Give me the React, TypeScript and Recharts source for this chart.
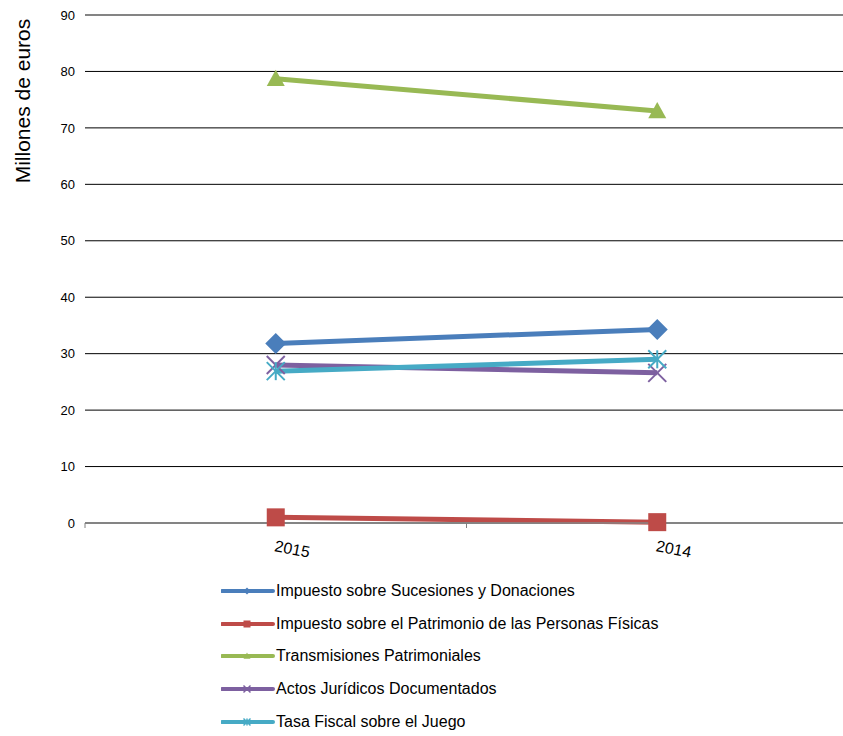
import React from 'react';
import {
  LineChart,
  Line,
  XAxis,
  YAxis,
  CartesianGrid,
  Legend,
  ReferenceLine
} from 'recharts';

const years = ['2015', '2014'];
const sucesiones = [31.8, 34.3];
const patrimonio = [1.0, 0.15];
const transmisiones = [78.7, 73.0];
const actos = [28.0, 26.6];
const tasaJuego = [26.9, 29.0];
const yTicks = [0, 10, 20, 30, 40, 50, 60, 70, 80, 90];

const series = [
  { key: 'sucesiones', name: 'Impuesto sobre Sucesiones y Donaciones', color: '#4A7EBB', shape: 'diamond', values: sucesiones },
  { key: 'patrimonio', name: 'Impuesto sobre el Patrimonio de las Personas Físicas', color: '#BE4B48', shape: 'square', values: patrimonio },
  { key: 'transmisiones', name: 'Transmisiones Patrimoniales', color: '#98B954', shape: 'triangle', values: transmisiones },
  { key: 'actos', name: 'Actos Jurídicos Documentados', color: '#7D60A0', shape: 'x', values: actos },
  { key: 'tasaJuego', name: 'Tasa Fiscal sobre el Juego', color: '#46AAC5', shape: 'star', values: tasaJuego }
];

const data = years.map((year, i) => {
  const row: any = { year };
  series.forEach((s) => {
    row[s.key] = s.values[i];
  });
  return row;
});

const FONT = "Arial, 'Liberation Sans', sans-serif";
const PLOT_LEFT = 85;
const PLOT_RIGHT = 848;
const BAND_HALF = (PLOT_RIGHT - PLOT_LEFT) / years.length / 2;

const Marker = ({ shape, cx, cy, color, size, sw = 2 }: any) => {
  const r = size / 2;
  switch (shape) {
    case 'diamond':
      return <polygon points={`${cx},${cy - r} ${cx + r},${cy} ${cx},${cy + r} ${cx - r},${cy}`} fill={color} />;
    case 'square':
      return <rect x={cx - r} y={cy - r} width={size} height={size} fill={color} />;
    case 'triangle':
      return <polygon points={`${cx},${cy - r} ${cx + r},${cy + r * 0.8} ${cx - r},${cy + r * 0.8}`} fill={color} />;
    case 'x':
      return (
        <g stroke={color} strokeWidth={sw}>
          <line x1={cx - r} y1={cy - r} x2={cx + r} y2={cy + r} />
          <line x1={cx - r} y1={cy + r} x2={cx + r} y2={cy - r} />
        </g>
      );
    case 'star':
      return (
        <g stroke={color} strokeWidth={sw}>
          <line x1={cx - r} y1={cy - r} x2={cx + r} y2={cy + r} />
          <line x1={cx - r} y1={cy + r} x2={cx + r} y2={cy - r} />
          <line x1={cx} y1={cy - r} x2={cx} y2={cy + r} />
        </g>
      );
    default:
      return null;
  }
};

const XTick = ({ x, y, payload, index }: any) => {
  const isLast = index === years.length - 1;
  return (
    <g>
      <line x1={x - BAND_HALF} y1={y} x2={x - BAND_HALF} y2={y + 5} stroke="#808080" />
      {isLast && <line x1={x + BAND_HALF} y1={y} x2={x + BAND_HALF} y2={y + 5} stroke="#808080" />}
      <text
        x={x - 2}
        y={y + 28}
        transform={`rotate(11, ${x - 2}, ${y + 28})`}
        textAnchor="start"
        fontSize={16}
        fontFamily={FONT}
        fill="#000"
      >
        {payload.value}
      </text>
    </g>
  );
};

const LegendContent = () => (
  <div style={{ fontFamily: FONT, fontSize: 16, color: '#000' }}>
    {series.map((s) => (
      <div key={s.key} style={{ display: 'flex', alignItems: 'center', height: 32.7, whiteSpace: 'nowrap' }}>
        <svg width={54} height={14} style={{ display: 'block' }}>
          <line x1={1} y1={7} x2={52} y2={7} stroke={s.color} strokeWidth={4} strokeLinecap="round" />
          <Marker shape={s.shape} cx={26} cy={7} color={s.color} size={7} sw={1.5} />
        </svg>
        <span style={{ marginLeft: 1 }}>{s.name}</span>
      </div>
    ))}
  </div>
);

const YLabel = () => (
  <text
    x={22}
    y={101}
    transform="rotate(-90, 22, 101)"
    textAnchor="middle"
    dominantBaseline="central"
    fontSize={21}
    fontFamily={FONT}
    fill="#000"
  >
    Millones de euros
  </text>
);

export default function App() {
  return (
    <div style={{ position: 'absolute', left: 0, top: 0, width: 843, height: 736, overflow: 'hidden', background: '#fff' }}>
      <LineChart
        width={860}
        height={736}
        data={data}
        margin={{ top: 15, right: 860 - PLOT_RIGHT, left: 0, bottom: 183 }}
      >
        <CartesianGrid horizontal vertical={false} stroke="#000" strokeWidth={1} />
        <ReferenceLine y={90} stroke="#868686" strokeWidth={1.5} />
        <XAxis
          dataKey="year"
          height={30}
          padding={{ left: BAND_HALF, right: BAND_HALF }}
          axisLine={{ stroke: '#868686', strokeWidth: 1.5 }}
          tickLine={false}
          tickSize={0}
          tickMargin={0}
          tick={<XTick />}
          interval={0}
        />
        <YAxis
          width={PLOT_LEFT}
          domain={[0, 90]}
          ticks={yTicks}
          axisLine={false}
          tickLine={false}
          tickSize={0}
          tickMargin={10}
          tick={{ fontSize: 13, fontFamily: FONT, fill: '#000' }}
          label={{ content: () => <YLabel /> }}
        />
        <Legend
          layout="vertical"
          align="center"
          verticalAlign="middle"
          content={<LegendContent />}
          wrapperStyle={{ top: 574.5, left: 221, width: 560 }}
        />
        {series.map((s) => (
          <Line
            key={s.key}
            dataKey={s.key}
            name={s.name}
            type="linear"
            stroke={s.color}
            strokeWidth={5}
            isAnimationActive={false}
            dot={(p: any) => (
              <Marker key={`${s.key}-${p.index}`} shape={s.shape} cx={p.cx} cy={p.cy} color={s.color} size={s.shape === 'diamond' ? 21 : 18} />
            )}
            activeDot={false}
          />
        ))}
      </LineChart>
    </div>
  );
}
